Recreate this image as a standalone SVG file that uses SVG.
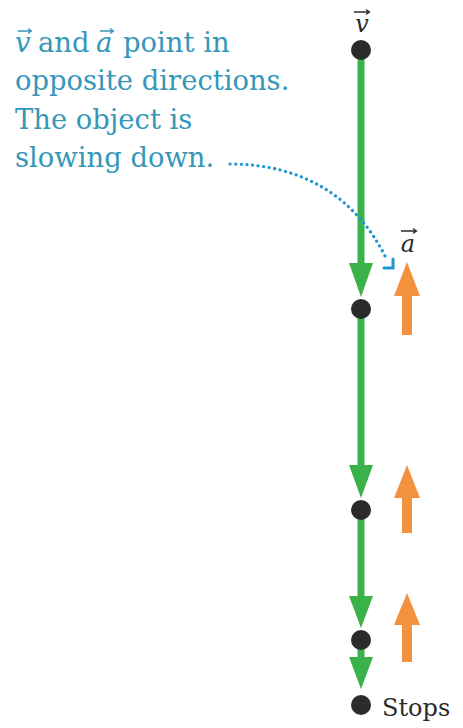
<svg xmlns="http://www.w3.org/2000/svg" width="463" height="728" viewBox="0 0 463 728">
<style>
.dot{fill:#2b2b2b}
.vel{stroke:#3bb149;stroke-width:7;fill:none}
.velhead{fill:#3bb149}
.acc{fill:#f4913f}
.note{font-family:'DejaVu Serif',serif;font-size:27.4px;fill:#3597b9}
.lbl{font-family:'DejaVu Serif',serif;font-size:24px;fill:#2b2b2b}
.vec{stroke:#2b2b2b;stroke-width:1.3;fill:none}
.vecn{stroke:#3597b9;stroke-width:1.3;fill:none}
.callout{stroke:#1e96d3;stroke-width:3.2;fill:none;stroke-linecap:round;stroke-dasharray:0.1 5.5}
</style>
<rect width="463" height="728" fill="#ffffff"/>
<g id="connectors">
  <line class="vel" x1="361" y1="50" x2="361" y2="268"/>
  <polygon class="velhead" points="349,263 373,263 361,297"/>
  <line class="vel" x1="361" y1="310" x2="361" y2="470"/>
  <polygon class="velhead" points="349,465 373,465 361,498"/>
  <line class="vel" x1="361" y1="510" x2="361" y2="600"/>
  <polygon class="velhead" points="349,596 373,596 361,628"/>
  <line class="vel" x1="361" y1="640" x2="361" y2="662"/>
  <polygon class="velhead" points="349,657 373,657 361,689"/>
  <g id="acc-arrows">
    <polygon class="acc" points="407,262 420,296 412,296 412,335 402,335 402,296 394,296"/>
    <polygon class="acc" points="407,465 420,498 412,498 412,533 402,533 402,498 394,498"/>
    <polygon class="acc" points="407,593 420,625 412,625 412,662 402,662 402,625 394,625"/>
  </g>
  <g id="callout">
    <path class="callout" d="M230,164 C300,164 355,195 386,258"/>
    <path d="M384,268 L393,268 L393,259" fill="none" stroke="#1e96d3" stroke-width="3" stroke-linecap="round" stroke-linejoin="miter"/>
  </g>
</g>
<g id="dot1"><circle class="dot" cx="361" cy="50" r="10"/></g>
<g id="dot2"><circle class="dot" cx="361" cy="309" r="10"/></g>
<g id="dot3"><circle class="dot" cx="361" cy="510" r="10"/></g>
<g id="dot4"><circle class="dot" cx="361" cy="640" r="10"/></g>
<g id="dot5"><circle class="dot" cx="361" cy="705" r="10"/></g>
<g id="label-v">
  <text class="lbl" x="362" y="32" text-anchor="middle" font-style="italic">v</text>
  <path class="vec" d="M354,12 L369,12 M366,9.5 L369.5,12 L366,14.5"/>
</g>
<g id="label-a">
  <text class="lbl" x="408" y="252" text-anchor="middle" font-style="italic">a</text>
  <path class="vec" d="M401,231 L416,231 M413,228.5 L416.5,231 L413,233.5"/>
</g>
<g id="label-stops">
  <text class="lbl" x="382" y="716" font-size="26.5">Stops</text>
</g>
<g id="note">
  <text class="note" x="15" y="52" font-style="italic">v</text>
  <text class="note" x="38" y="52">and</text>
  <text class="note" x="96" y="52" font-style="italic">a</text>
  <text class="note" x="123" y="52">point in</text>
  <path class="vecn" d="M18,31 L31,31 M28,28.5 L31.5,31 L28,33.5"/>
  <path class="vecn" d="M100,31 L113,31 M110,28.5 L113.5,31 L110,33.5"/>
  <text class="note" x="15" y="90">opposite directions.</text>
  <text class="note" x="15" y="129">The object is</text>
  <text class="note" x="15" y="167">slowing down.</text>
</g>
</svg>
